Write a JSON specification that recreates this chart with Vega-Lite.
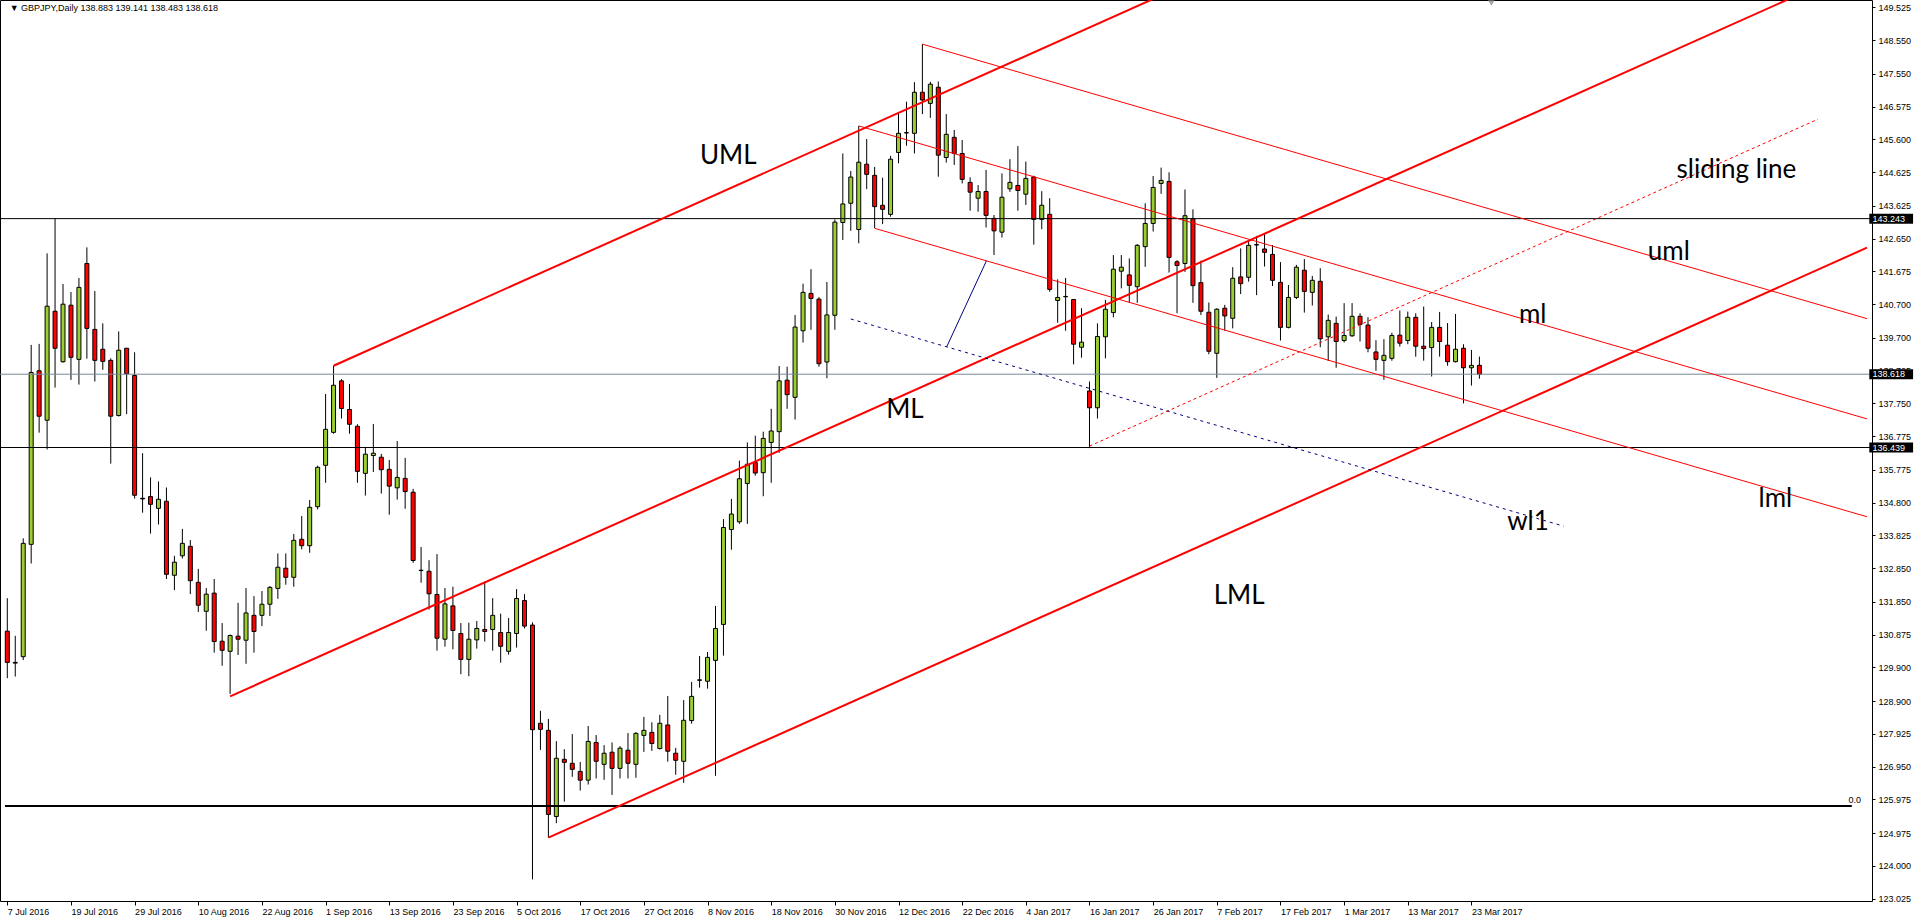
{
  "$schema": "https://vega.github.io/schema/vega-lite/v6.json",
  "width": 1872,
  "height": 901,
  "autosize": {"type": "none"},
  "padding": {"left": 0, "top": 0, "right": 43, "bottom": 22},
  "background": "white",
  "config": {
    "view": {"stroke": "black", "strokeWidth": 1},
    "axis": {
      "domain": false,
      "grid": false,
      "labelFont": "Liberation Sans",
      "labelFontSize": 9,
      "labelColor": "black",
      "tickColor": "black",
      "title": null
    }
  },
  "datasets": {
    "candles": [
      {"i":0,"o":130.98,"h":131.96,"l":129.58,"c":130.05},
      {"i":1,"o":130.05,"h":130.84,"l":129.63,"c":130.03},
      {"i":2,"o":130.22,"h":133.74,"l":130.12,"c":133.59},
      {"i":3,"o":133.56,"h":139.49,"l":132.99,"c":138.67},
      {"i":4,"o":138.72,"h":139.52,"l":136.88,"c":137.37},
      {"i":5,"o":137.25,"h":142.21,"l":136.38,"c":140.64},
      {"i":6,"o":140.49,"h":143.25,"l":138.22,"c":139.39},
      {"i":7,"o":138.99,"h":141.30,"l":138.96,"c":140.70},
      {"i":8,"o":140.67,"h":141.06,"l":138.45,"c":139.12},
      {"i":9,"o":139.06,"h":141.48,"l":138.31,"c":141.20},
      {"i":10,"o":141.91,"h":142.39,"l":139.08,"c":139.98},
      {"i":11,"o":139.95,"h":141.09,"l":138.40,"c":139.03},
      {"i":12,"o":139.36,"h":140.13,"l":138.75,"c":139.00},
      {"i":13,"o":139.03,"h":139.09,"l":135.96,"c":137.37},
      {"i":14,"o":137.39,"h":139.89,"l":137.36,"c":139.33},
      {"i":15,"o":139.39,"h":139.39,"l":137.43,"c":138.63},
      {"i":16,"o":138.58,"h":139.27,"l":134.92,"c":135.02},
      {"i":17,"o":134.93,"h":136.27,"l":134.50,"c":134.91},
      {"i":18,"o":134.98,"h":135.55,"l":133.88,"c":134.75},
      {"i":19,"o":134.63,"h":135.43,"l":134.15,"c":134.90},
      {"i":20,"o":134.84,"h":135.25,"l":132.53,"c":132.67},
      {"i":21,"o":132.64,"h":133.22,"l":132.20,"c":133.03},
      {"i":22,"o":133.22,"h":134.02,"l":133.14,"c":133.59},
      {"i":23,"o":133.50,"h":133.69,"l":132.08,"c":132.48},
      {"i":24,"o":132.43,"h":132.83,"l":131.55,"c":131.75},
      {"i":25,"o":131.57,"h":132.26,"l":130.99,"c":132.08},
      {"i":26,"o":132.11,"h":132.53,"l":130.34,"c":130.67},
      {"i":27,"o":130.68,"h":131.22,"l":129.95,"c":130.41},
      {"i":28,"o":130.38,"h":130.88,"l":129.11,"c":130.85},
      {"i":29,"o":130.83,"h":131.82,"l":130.27,"c":130.74},
      {"i":30,"o":130.71,"h":132.26,"l":130.01,"c":131.52},
      {"i":31,"o":131.45,"h":132.02,"l":130.34,"c":130.97},
      {"i":32,"o":131.45,"h":132.17,"l":131.13,"c":131.78},
      {"i":33,"o":131.78,"h":132.32,"l":131.43,"c":132.28},
      {"i":34,"o":132.25,"h":133.29,"l":131.94,"c":132.88},
      {"i":35,"o":132.85,"h":133.29,"l":132.36,"c":132.58},
      {"i":36,"o":132.58,"h":133.87,"l":132.30,"c":133.68},
      {"i":37,"o":133.71,"h":134.40,"l":133.41,"c":133.52},
      {"i":38,"o":133.52,"h":134.88,"l":133.31,"c":134.66},
      {"i":39,"o":134.68,"h":135.90,"l":134.60,"c":135.85},
      {"i":40,"o":135.91,"h":138.03,"l":135.39,"c":136.98},
      {"i":41,"o":136.89,"h":138.87,"l":136.85,"c":138.29},
      {"i":42,"o":138.42,"h":138.47,"l":137.30,"c":137.60},
      {"i":43,"o":137.57,"h":138.33,"l":136.85,"c":137.13},
      {"i":44,"o":137.07,"h":137.13,"l":135.39,"c":135.73},
      {"i":45,"o":135.67,"h":136.46,"l":135.01,"c":136.24},
      {"i":46,"o":136.20,"h":137.14,"l":135.71,"c":136.27},
      {"i":47,"o":136.15,"h":136.25,"l":135.07,"c":135.78},
      {"i":48,"o":135.79,"h":136.07,"l":134.44,"c":135.29},
      {"i":49,"o":135.24,"h":136.63,"l":134.89,"c":135.55},
      {"i":50,"o":135.52,"h":136.13,"l":134.62,"c":135.13},
      {"i":51,"o":135.11,"h":135.21,"l":133.01,"c":133.08},
      {"i":52,"o":132.79,"h":133.48,"l":132.42,"c":132.78},
      {"i":53,"o":132.76,"h":133.09,"l":131.62,"c":132.09},
      {"i":54,"o":132.07,"h":133.27,"l":130.40,"c":130.77},
      {"i":55,"o":130.74,"h":132.26,"l":130.52,"c":131.79},
      {"i":56,"o":131.73,"h":132.30,"l":130.44,"c":131.00},
      {"i":57,"o":130.91,"h":131.22,"l":129.70,"c":130.14},
      {"i":58,"o":130.14,"h":131.23,"l":129.64,"c":130.74},
      {"i":59,"o":130.72,"h":131.28,"l":130.46,"c":131.06},
      {"i":60,"o":131.03,"h":132.45,"l":130.67,"c":130.97},
      {"i":61,"o":131.03,"h":131.96,"l":130.40,"c":131.45},
      {"i":62,"o":130.94,"h":131.50,"l":130.04,"c":130.53},
      {"i":63,"o":130.38,"h":131.37,"l":130.28,"c":130.94},
      {"i":64,"o":130.91,"h":132.23,"l":130.49,"c":131.95},
      {"i":65,"o":131.89,"h":132.08,"l":131.06,"c":131.13},
      {"i":66,"o":131.16,"h":131.24,"l":123.60,"c":128.05},
      {"i":67,"o":128.24,"h":128.61,"l":127.45,"c":128.06},
      {"i":68,"o":128.03,"h":128.37,"l":124.84,"c":125.53},
      {"i":69,"o":125.47,"h":127.71,"l":125.27,"c":127.20},
      {"i":70,"o":127.17,"h":127.47,"l":125.91,"c":127.08},
      {"i":71,"o":127.05,"h":127.92,"l":126.65,"c":126.87},
      {"i":72,"o":126.81,"h":127.09,"l":126.24,"c":126.55},
      {"i":73,"o":126.55,"h":128.16,"l":126.42,"c":127.70},
      {"i":74,"o":127.67,"h":127.89,"l":126.60,"c":127.11},
      {"i":75,"o":127.02,"h":127.59,"l":126.56,"c":127.35},
      {"i":76,"o":127.38,"h":127.67,"l":126.11,"c":126.90},
      {"i":77,"o":126.90,"h":127.56,"l":126.60,"c":127.50},
      {"i":78,"o":127.44,"h":127.95,"l":126.60,"c":127.05},
      {"i":79,"o":127.02,"h":127.98,"l":126.62,"c":127.94},
      {"i":80,"o":127.88,"h":128.43,"l":127.39,"c":128.03},
      {"i":81,"o":127.97,"h":128.27,"l":127.42,"c":127.64},
      {"i":82,"o":127.49,"h":128.49,"l":127.46,"c":128.24},
      {"i":83,"o":128.19,"h":129.05,"l":127.10,"c":127.41},
      {"i":84,"o":127.35,"h":127.51,"l":126.71,"c":127.14},
      {"i":85,"o":127.11,"h":128.93,"l":126.47,"c":128.33},
      {"i":86,"o":128.32,"h":129.47,"l":128.23,"c":129.04},
      {"i":87,"o":129.53,"h":130.24,"l":129.30,"c":129.52},
      {"i":88,"o":129.49,"h":130.36,"l":129.27,"c":130.20},
      {"i":89,"o":130.11,"h":131.73,"l":126.68,"c":131.06},
      {"i":90,"o":131.18,"h":134.31,"l":130.25,"c":134.06},
      {"i":91,"o":134.00,"h":134.91,"l":133.40,"c":134.46},
      {"i":92,"o":134.23,"h":136.05,"l":134.17,"c":135.51},
      {"i":93,"o":135.37,"h":136.59,"l":134.17,"c":135.94},
      {"i":94,"o":135.99,"h":136.79,"l":135.60,"c":135.68},
      {"i":95,"o":135.69,"h":136.91,"l":134.99,"c":136.71},
      {"i":96,"o":136.59,"h":137.59,"l":135.39,"c":136.93},
      {"i":97,"o":136.91,"h":138.86,"l":136.28,"c":138.42},
      {"i":98,"o":138.44,"h":138.84,"l":137.59,"c":138.01},
      {"i":99,"o":137.93,"h":140.38,"l":137.27,"c":140.02},
      {"i":100,"o":139.91,"h":141.31,"l":139.56,"c":141.05},
      {"i":101,"o":141.02,"h":141.74,"l":139.94,"c":140.87},
      {"i":102,"o":140.85,"h":140.91,"l":138.84,"c":138.93},
      {"i":103,"o":138.98,"h":141.36,"l":138.50,"c":140.38},
      {"i":104,"o":140.37,"h":143.22,"l":139.94,"c":143.14},
      {"i":105,"o":143.13,"h":145.18,"l":142.61,"c":143.68},
      {"i":106,"o":143.70,"h":144.66,"l":142.88,"c":144.48},
      {"i":107,"o":142.92,"h":146.00,"l":142.51,"c":144.92},
      {"i":108,"o":144.86,"h":145.61,"l":144.12,"c":144.56},
      {"i":109,"o":144.53,"h":144.78,"l":142.96,"c":143.60},
      {"i":110,"o":143.64,"h":144.46,"l":143.08,"c":143.52},
      {"i":111,"o":143.37,"h":145.11,"l":143.30,"c":145.01},
      {"i":112,"o":145.21,"h":146.37,"l":144.89,"c":145.78},
      {"i":113,"o":145.80,"h":146.72,"l":145.41,"c":145.79},
      {"i":114,"o":145.78,"h":147.30,"l":145.18,"c":147.00},
      {"i":115,"o":147.00,"h":148.43,"l":146.35,"c":146.77},
      {"i":116,"o":146.67,"h":147.31,"l":146.24,"c":147.24},
      {"i":117,"o":147.15,"h":147.32,"l":144.49,"c":145.13},
      {"i":118,"o":145.06,"h":146.35,"l":144.91,"c":145.75},
      {"i":119,"o":145.66,"h":145.88,"l":144.84,"c":145.18},
      {"i":120,"o":145.18,"h":145.58,"l":144.29,"c":144.41},
      {"i":121,"o":144.32,"h":144.47,"l":143.48,"c":144.03},
      {"i":122,"o":143.85,"h":144.24,"l":143.45,"c":144.05},
      {"i":123,"o":144.05,"h":144.69,"l":142.98,"c":143.34},
      {"i":124,"o":143.25,"h":143.35,"l":142.16,"c":142.88},
      {"i":125,"o":142.84,"h":144.59,"l":142.68,"c":143.88},
      {"i":126,"o":144.13,"h":145.01,"l":144.04,"c":144.32},
      {"i":127,"o":144.23,"h":145.40,"l":143.48,"c":144.08},
      {"i":128,"o":143.97,"h":144.94,"l":143.65,"c":144.44},
      {"i":129,"o":144.48,"h":144.52,"l":142.47,"c":143.22},
      {"i":130,"o":143.22,"h":144.06,"l":142.93,"c":143.64},
      {"i":131,"o":143.37,"h":143.85,"l":141.07,"c":141.14},
      {"i":132,"o":140.81,"h":141.44,"l":140.15,"c":140.90},
      {"i":133,"o":140.93,"h":141.48,"l":139.91,"c":140.92},
      {"i":134,"o":140.84,"h":140.85,"l":138.91,"c":139.51},
      {"i":135,"o":139.42,"h":140.58,"l":139.11,"c":139.57},
      {"i":136,"o":138.12,"h":138.40,"l":136.42,"c":137.62},
      {"i":137,"o":137.62,"h":140.13,"l":137.30,"c":139.74},
      {"i":138,"o":139.73,"h":140.83,"l":139.09,"c":140.55},
      {"i":139,"o":140.45,"h":142.16,"l":140.31,"c":141.74},
      {"i":140,"o":141.68,"h":142.16,"l":141.17,"c":141.80},
      {"i":141,"o":141.57,"h":142.06,"l":140.75,"c":141.26},
      {"i":142,"o":141.22,"h":142.49,"l":140.74,"c":142.45},
      {"i":143,"o":142.41,"h":143.70,"l":141.81,"c":143.10},
      {"i":144,"o":143.10,"h":144.51,"l":142.86,"c":144.17},
      {"i":145,"o":144.29,"h":144.76,"l":143.98,"c":144.38},
      {"i":146,"o":144.35,"h":144.62,"l":141.64,"c":142.09},
      {"i":147,"o":141.96,"h":142.01,"l":140.43,"c":141.85},
      {"i":148,"o":141.91,"h":144.11,"l":141.66,"c":143.33},
      {"i":149,"o":143.24,"h":143.52,"l":140.74,"c":141.25},
      {"i":150,"o":141.34,"h":141.99,"l":140.38,"c":140.49},
      {"i":151,"o":140.46,"h":140.75,"l":139.21,"c":139.30},
      {"i":152,"o":139.24,"h":140.58,"l":138.51,"c":140.55},
      {"i":153,"o":140.58,"h":140.68,"l":139.91,"c":140.35},
      {"i":154,"o":140.28,"h":141.80,"l":139.98,"c":141.47},
      {"i":155,"o":141.51,"h":142.36,"l":141.00,"c":141.31},
      {"i":156,"o":141.50,"h":142.59,"l":141.37,"c":142.45},
      {"i":157,"o":142.47,"h":142.73,"l":140.97,"c":142.46},
      {"i":158,"o":142.34,"h":142.81,"l":141.82,"c":142.24},
      {"i":159,"o":142.18,"h":142.46,"l":141.24,"c":141.41},
      {"i":160,"o":141.35,"h":141.95,"l":139.62,"c":140.01},
      {"i":161,"o":140.01,"h":141.27,"l":139.98,"c":140.90},
      {"i":162,"o":140.90,"h":141.87,"l":140.85,"c":141.80},
      {"i":163,"o":141.71,"h":142.04,"l":140.45,"c":141.08},
      {"i":164,"o":141.05,"h":141.54,"l":140.66,"c":141.41},
      {"i":165,"o":141.38,"h":141.77,"l":139.42,"c":139.67},
      {"i":166,"o":139.73,"h":140.39,"l":139.01,"c":140.22},
      {"i":167,"o":140.13,"h":140.33,"l":138.81,"c":139.59},
      {"i":168,"o":139.62,"h":140.73,"l":139.56,"c":139.77},
      {"i":169,"o":139.76,"h":140.73,"l":139.73,"c":140.34},
      {"i":170,"o":140.34,"h":140.43,"l":139.59,"c":140.10},
      {"i":171,"o":140.08,"h":140.31,"l":139.27,"c":139.39},
      {"i":172,"o":139.28,"h":139.63,"l":138.72,"c":139.06},
      {"i":173,"o":139.03,"h":139.66,"l":138.45,"c":139.18},
      {"i":174,"o":139.09,"h":139.85,"l":139.02,"c":139.77},
      {"i":175,"o":139.78,"h":140.51,"l":139.44,"c":139.54},
      {"i":176,"o":139.62,"h":140.48,"l":139.51,"c":140.31},
      {"i":177,"o":140.31,"h":140.43,"l":139.14,"c":139.45},
      {"i":178,"o":139.45,"h":140.63,"l":139.02,"c":139.38},
      {"i":179,"o":139.41,"h":140.17,"l":138.55,"c":140.01},
      {"i":180,"o":140.01,"h":140.47,"l":139.14,"c":139.59},
      {"i":181,"o":139.48,"h":140.14,"l":138.87,"c":138.99},
      {"i":182,"o":138.99,"h":140.41,"l":138.97,"c":139.36},
      {"i":183,"o":139.39,"h":139.51,"l":137.75,"c":138.81},
      {"i":184,"o":138.81,"h":139.34,"l":138.28,"c":138.88},
      {"i":185,"o":138.883,"h":139.141,"l":138.483,"c":138.618}
    ],
    "fork_main": [
      {"line":"UML","i":41,"p":138.87},{"line":"UML","i":233.71,"p":159.27},
      {"line":"ML","i":28,"p":129.04},{"line":"ML","i":233.71,"p":150.81},
      {"line":"LML","i":68,"p":124.84},{"line":"LML","i":233.71,"p":142.38}
    ],
    "fork_small": [
      {"line":"uml","i":115,"p":148.43},{"line":"uml","i":233.71,"p":140.27},
      {"line":"ml","i":107,"p":146.0},{"line":"ml","i":233.71,"p":137.29},
      {"line":"lml","i":109,"p":142.955},{"line":"lml","i":233.71,"p":134.38}
    ],
    "sliding": [{"i":136,"p":136.48},{"i":227.55,"p":146.2}],
    "warning": [{"i":106,"p":140.26},{"i":195.6,"p":134.1}],
    "connector": [{"i":118.05,"p":139.43},{"i":123.05,"p":141.99}],
    "levels": [{"level":143.243},{"level":138.618},{"level":136.439}],
    "labels": [
      {"t":"UML","i":90.6,"p":144.87},
      {"t":"ML","i":112.8,"p":137.31},
      {"t":"LML","i":154.8,"p":131.78},
      {"t":"uml","i":208.8,"p":142.01},
      {"t":"ml","i":191.7,"p":140.13},
      {"t":"lml","i":222.2,"p":134.68},
      {"t":"wl1","i":191.1,"p":133.98},
      {"t":"sliding line","i":217.3,"p":144.45}
    ]
  },
  "encoding": {
    "x": {
      "type": "quantitative",
      "scale": {"domain": [-0.29, 233.71], "nice": false, "zero": false},
      "axis": {
        "orient": "bottom",
        "values": [0,8,16,24,32,40,48,56,64,72,80,88,96,104,112,120,128,136,144,152,160,168,176,184],
        "labelExpr": "['7 Jul 2016','19 Jul 2016','29 Jul 2016','10 Aug 2016','22 Aug 2016','1 Sep 2016','13 Sep 2016','23 Sep 2016','5 Oct 2016','17 Oct 2016','27 Oct 2016','8 Nov 2016','18 Nov 2016','30 Nov 2016','12 Dec 2016','22 Dec 2016','4 Jan 2017','16 Jan 2017','26 Jan 2017','7 Feb 2017','17 Feb 2017','1 Mar 2017','13 Mar 2017','23 Mar 2017'][round(datum.value / 8)]",
        "labelAlign": "left",
        "labelPadding": 2,
        "tickSize": 4,
        "labelFlush": false,
        "labelOverlap": false
      }
    },
    "y": {
      "type": "quantitative",
      "scale": {"domain": [122.957, 149.743], "nice": false, "zero": false},
      "axis": {
        "orient": "right",
        "values": [123.025,124.0,124.975,125.975,126.95,127.925,128.9,129.9,130.875,131.85,132.85,133.825,134.8,135.775,136.775,137.75,138.725,139.7,140.7,141.675,142.65,143.625,144.625,145.6,146.575,147.55,148.55,149.525],
        "format": ".3f",
        "tickSize": 3,
        "labelPadding": 3,
        "labelOverlap": false
      }
    }
  },
  "layer": [
    {
      "data": {"name": "candles"},
      "mark": {"type": "rule", "color": "black", "strokeWidth": 1},
      "encoding": {"x": {"field": "i"}, "y": {"field": "l"}, "y2": {"field": "h"}}
    },
    {
      "data": {"name": "candles"},
      "mark": {"type": "bar", "size": 4, "stroke": "black", "strokeWidth": 1},
      "encoding": {
        "x": {"field": "i"},
        "y": {"field": "o"},
        "y2": {"field": "c"},
        "fill": {"condition": {"test": "datum.c >= datum.o", "value": "#9ACD32"}, "value": "#FF0000"}
      }
    },
    {
      "data": {"name": "levels"},
      "transform": [{"filter": "datum.level != 138.618"}],
      "mark": {"type": "rule", "color": "black", "strokeWidth": 1},
      "encoding": {"y": {"field": "level"}}
    },
    {
      "data": {"name": "levels"},
      "transform": [{"filter": "datum.level == 138.618"}],
      "mark": {"type": "rule", "color": "#778899", "strokeWidth": 1},
      "encoding": {"y": {"field": "level"}}
    },
    {
      "data": {"values": [{"level": 125.78}]},
      "mark": {"type": "rule", "color": "black", "strokeWidth": 2},
      "encoding": {"x": {"datum": -0.29}, "x2": {"datum": 231.8}, "y": {"field": "level"}}
    },
    {
      "data": {"name": "fork_main"},
      "mark": {"type": "line", "color": "#FF0000", "strokeWidth": 2, "clip": true},
      "encoding": {"x": {"field": "i"}, "y": {"field": "p"}, "detail": {"field": "line"}}
    },
    {
      "data": {"name": "fork_small"},
      "mark": {"type": "line", "color": "#FF0000", "strokeWidth": 1, "clip": true},
      "encoding": {"x": {"field": "i"}, "y": {"field": "p"}, "detail": {"field": "line"}}
    },
    {
      "data": {"name": "sliding"},
      "mark": {"type": "line", "color": "#FF0000", "strokeWidth": 1, "strokeDash": [3, 3]},
      "encoding": {"x": {"field": "i"}, "y": {"field": "p"}}
    },
    {
      "data": {"name": "warning"},
      "mark": {"type": "line", "color": "#000080", "strokeWidth": 1, "strokeDash": [3, 4]},
      "encoding": {"x": {"field": "i"}, "y": {"field": "p"}}
    },
    {
      "data": {"name": "connector"},
      "mark": {"type": "line", "color": "#000080", "strokeWidth": 1},
      "encoding": {"x": {"field": "i"}, "y": {"field": "p"}}
    },
    {
      "data": {"name": "labels"},
      "mark": {"type": "text", "font": "Lato", "fontSize": 26, "color": "black", "align": "center", "baseline": "alphabetic"},
      "encoding": {"x": {"field": "i"}, "y": {"field": "p"}, "text": {"field": "t"}}
    },
    {
      "data": {"values": [{"t": "0.0", "i": 232.96, "p": 125.87}]},
      "mark": {"type": "text", "font": "Liberation Sans", "fontSize": 9, "color": "black", "align": "right", "baseline": "alphabetic"},
      "encoding": {"x": {"field": "i"}, "y": {"field": "p"}, "text": {"field": "t"}}
    },
    {
      "data": {"values": [{"t": "▼ GBPJPY,Daily  138.883 139.141 138.483 138.618", "i": 0.3, "p": 149.52}]},
      "mark": {"type": "text", "font": "Liberation Sans", "fontSize": 9, "color": "black", "align": "left", "baseline": "middle"},
      "encoding": {"x": {"field": "i"}, "y": {"field": "p"}, "text": {"field": "t"}}
    },
    {
      "data": {"values": [{"i": 186.5, "p": 149.66}]},
      "mark": {"type": "point", "shape": "triangle-down", "filled": true, "size": 50, "color": "#808080"},
      "encoding": {"x": {"field": "i"}, "y": {"field": "p"}}
    },
    {
      "data": {"name": "levels"},
      "mark": {"type": "rule", "color": "black", "strokeWidth": 10, "strokeCap": "butt"},
      "encoding": {"x": {"datum": 234.0}, "x2": {"datum": 239.5}, "y": {"field": "level"}}
    },
    {
      "data": {"name": "levels"},
      "mark": {"type": "text", "font": "Liberation Sans", "fontSize": 9, "color": "white", "align": "left", "baseline": "middle"},
      "encoding": {"x": {"datum": 234.4}, "y": {"field": "level"}, "text": {"field": "level", "format": ".3f"}}
    }
  ]
}
